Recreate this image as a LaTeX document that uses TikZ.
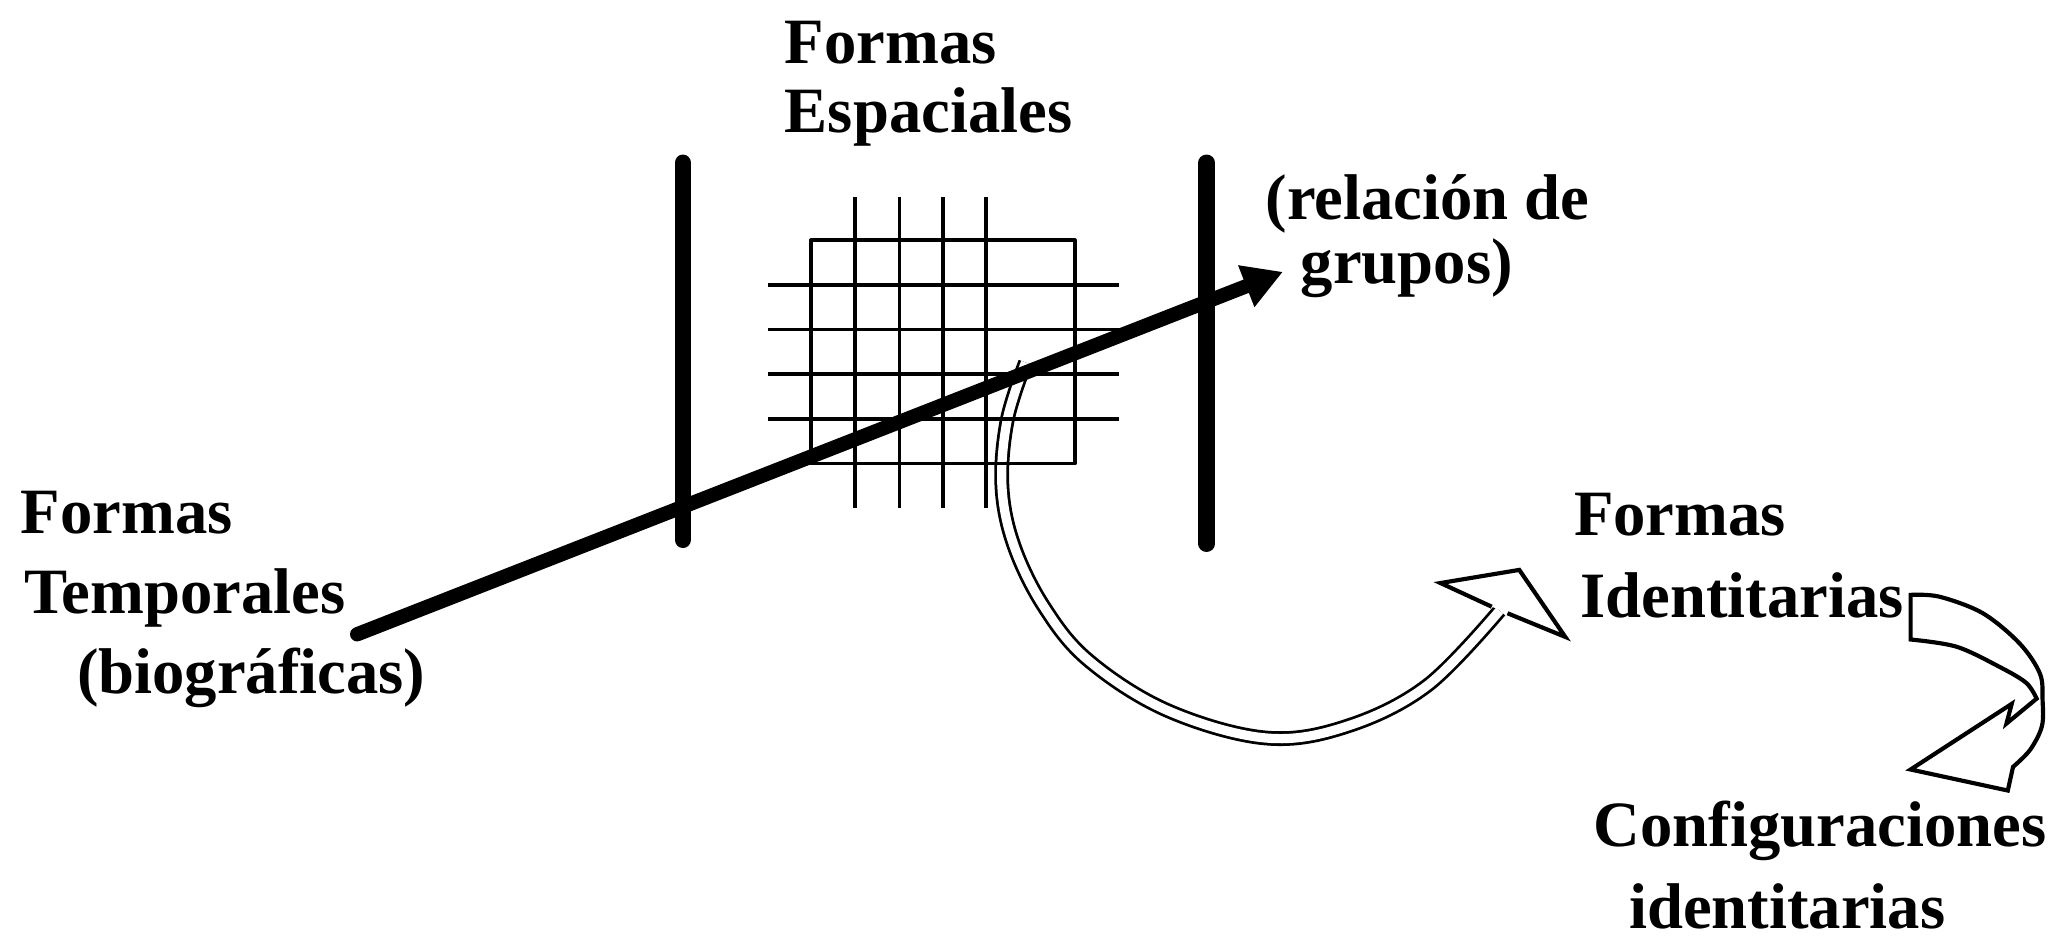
\documentclass[tikz,border=0pt]{standalone}
\usepackage{fontspec}
\setmainfont{Liberation Serif}
\usetikzlibrary{arrows.meta}
\newcommand{\mylbl}[2]{\fontsize{14pt}{#1}\selectfont\begin{tabular}[t]{@{}l@{}}#2\end{tabular}}
\begin{document}
\begin{tikzpicture}[x=0.01cm, y=-0.01cm, line join=round,
  bar/.style={line width=3.6pt, line cap=round},
  gridline/.style={line width=0.8pt},
  mainarrow/.style={line width=3.1pt, line cap=round, -{Triangle[length=0.3cm,width=0.32cm]}},
  hollow/.style={line width=0.9pt, fill=white, line join=miter},
  dbl/.style={line width=0.6pt, double=white, double distance=2pt},
  lbl/.style={anchor=base west, inner sep=0pt, font=\bfseries}]
\useasboundingbox (0,0) rectangle (1568,714);
\fill[white] (0,0) rectangle (1568,714);

% curved double-line arrow
\coordinate (cs) at (781,276);
\coordinate (ce) at (1142,465);
\draw[dbl] plot[smooth, tension=0.6] coordinates {(cs) (767,320) (763,370) (772,415) (795,462) (829,503) (889,541) (964,562) (1026,553) (1087,522) (ce)};
\draw[hollow] (1136,462) -- (1097,444) -- (1157,434) -- (1192,485) -- (1148,467);

% grid
\draw[gridline] (617.5,183) rectangle (818.6,353);
\foreach \x in {651,685,718,751} \draw[gridline] (\x,150) -- (\x,387);
\foreach \y in {217,251,285,319} \draw[gridline] (585,\y) -- (852,\y);

% bars
\coordinate (lb1) at (520,124); \coordinate (lb2) at (520,411);
\coordinate (rb1) at (919,124); \coordinate (rb2) at (919,414);
\draw[bar] (lb1) -- (lb2);
\draw[bar] (rb1) -- (rb2);

% main arrow
\coordinate (ms) at (272,483);
\coordinate (mt) at (977,207);
\draw[mainarrow] (ms) -- (mt);

% small curved hollow arrow
\draw[hollow] plot[smooth, tension=0.55] coordinates {(1455,453) (1477,454.4) (1510,467) (1538,490) (1553.5,513) (1555.5,533) (1555,553) (1546,571) (1533,584)}
  -- (1529,602) -- (1455,586) -- (1532,536) -- (1528,551) -- (1551,532)
  -- plot[smooth, tension=0.55] coordinates {(1551,532) (1543,520) (1523,508) (1490,492.5) (1455,487)} -- cycle;

% labels
\node[lbl] (esp) at (597,48) {\mylbl{15.1pt}{Formas\\Espaciales}};
\node[lbl] (rel) at (963,167.5) {\mylbl{13.6pt}{(relación de\\\hspace*{0.27cm}grupos)}};
\node[lbl] (temp) at (15,406) {\mylbl{17.4pt}{Formas\\\hspace*{0.03cm}Temporales\\\hspace*{0.43cm}(biográficas)}};
\node[lbl] (ident) at (1198,407.5) {\mylbl{17.9pt}{Formas\\\hspace*{0.05cm}Identitarias}};
\node[lbl] (conf) at (1213,645) {\mylbl{17.6pt}{Configuraciones\\\hspace*{0.27cm}identitarias}};
\end{tikzpicture}
\end{document}
